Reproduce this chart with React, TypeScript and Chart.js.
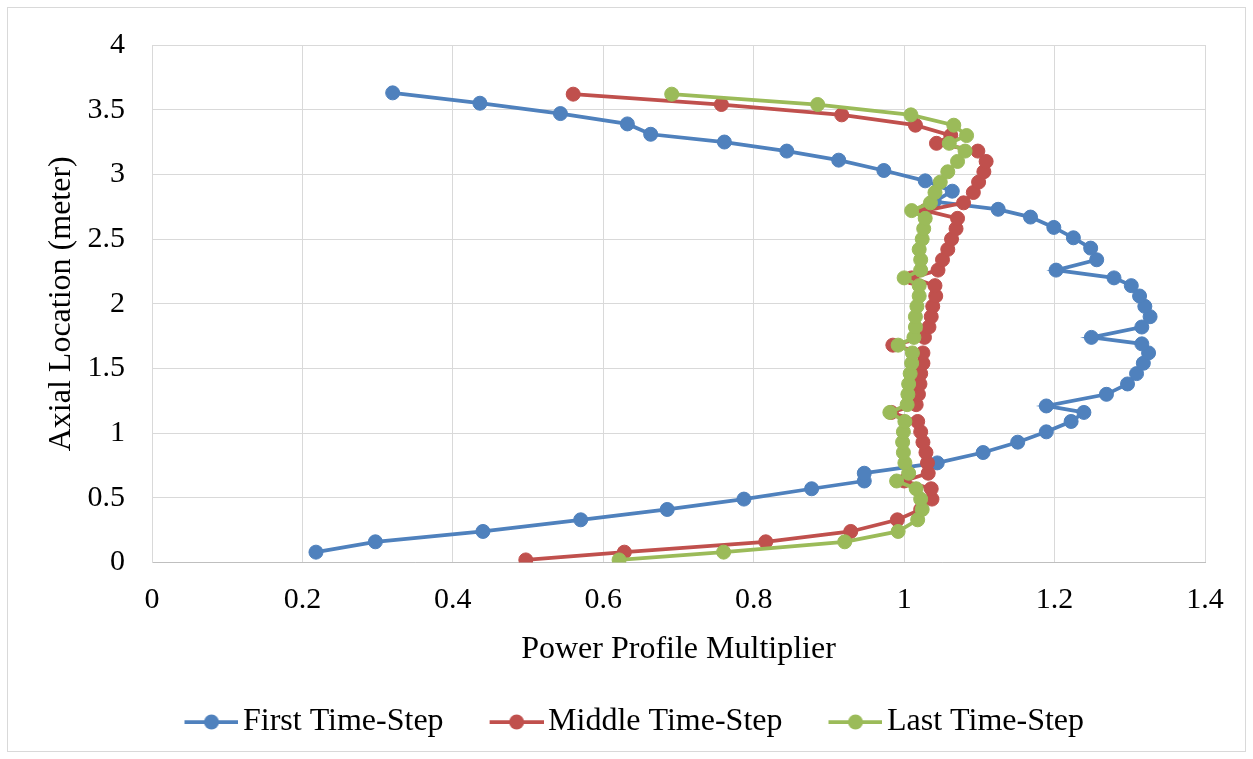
import React, { useEffect, useRef } from "react";
import { Chart, registerables } from "chart.js";

Chart.register(...registerables);

// ---- Data ----
const seriesLabels = ["First Time-Step", "Middle Time-Step", "Last Time-Step"];
const seriesColors = ["#4F81BD", "#C0504D", "#9BBB59"];

const firstY = [
  0.08, 0.16, 0.24, 0.33, 0.41, 0.49, 0.57, 0.63, 0.69, 0.77,
  0.85, 0.93, 1.01, 1.09, 1.16, 1.21, 1.30, 1.38, 1.46, 1.54,
  1.62, 1.69, 1.74, 1.82, 1.90, 1.98, 2.06, 2.14, 2.20, 2.26,
  2.34, 2.43, 2.51, 2.59, 2.67, 2.73, 2.79, 2.87, 2.95, 3.03,
  3.11, 3.18, 3.25, 3.31, 3.39, 3.47, 3.55, 3.63,
];
const firstX = [
  0.218, 0.297, 0.440, 0.570, 0.685, 0.787, 0.877, 0.947, 0.947, 1.044,
  1.105, 1.151, 1.189, 1.222, 1.239, 1.189, 1.269, 1.297, 1.309, 1.318,
  1.325, 1.316, 1.249, 1.316, 1.327, 1.320, 1.313, 1.302, 1.279, 1.202,
  1.256, 1.248, 1.225, 1.199, 1.168, 1.125, 1.040, 1.064, 1.028, 0.973,
  0.913, 0.844, 0.761, 0.663, 0.632, 0.543, 0.436, 0.320,
];

const middleY = [
  0.02, 0.08, 0.16, 0.24, 0.33, 0.41, 0.49, 0.57, 0.63, 0.69,
  0.77, 0.85, 0.93, 1.01, 1.09, 1.16, 1.22, 1.30, 1.38, 1.46,
  1.54, 1.62, 1.68, 1.74, 1.82, 1.90, 1.98, 2.06, 2.14, 2.20,
  2.26, 2.34, 2.42, 2.50, 2.58, 2.66, 2.72, 2.78, 2.86, 2.94,
  3.02, 3.10, 3.18, 3.24, 3.30, 3.38, 3.46, 3.54, 3.62,
];
const middleX = [
  0.497, 0.628, 0.816, 0.929, 0.991, 1.022, 1.037, 1.036, 1.000, 1.032,
  1.031, 1.029, 1.025, 1.022, 1.018, 0.983, 1.016, 1.019, 1.021, 1.022,
  1.025, 1.025, 0.985, 1.027, 1.033, 1.036, 1.038, 1.042, 1.041, 1.010,
  1.045, 1.051, 1.058, 1.063, 1.069, 1.071, 1.028, 1.079, 1.092, 1.099,
  1.106, 1.109, 1.098, 1.043, 1.062, 1.015, 0.917, 0.757, 0.560,
];

const lastY = [
  0.02, 0.08, 0.16, 0.24, 0.33, 0.41, 0.49, 0.57, 0.63, 0.69,
  0.77, 0.85, 0.93, 1.01, 1.09, 1.16, 1.22, 1.30, 1.38, 1.46,
  1.54, 1.62, 1.68, 1.74, 1.82, 1.90, 1.98, 2.06, 2.14, 2.20,
  2.26, 2.34, 2.42, 2.50, 2.58, 2.66, 2.72, 2.78, 2.86, 2.94,
  3.02, 3.10, 3.18, 3.24, 3.30, 3.38, 3.46, 3.54, 3.62,
];
const lastX = [
  0.621, 0.760, 0.921, 0.992, 1.018, 1.024, 1.022, 1.016, 0.990, 1.006,
  1.001, 0.999, 0.998, 0.999, 1.001, 0.981, 1.004, 1.005, 1.006, 1.008,
  1.010, 1.011, 0.992, 1.013, 1.015, 1.015, 1.017, 1.020, 1.020, 1.000,
  1.022, 1.022, 1.020, 1.024, 1.026, 1.028, 1.010, 1.035, 1.041, 1.048,
  1.058, 1.071, 1.081, 1.060, 1.083, 1.066, 1.009, 0.885, 0.691,
];

const xTickMin = 0;
const xTickMax = 1.4;
const xTickStep = 0.2;
const yTickMin = 0;
const yTickMax = 4;
const yTickStep = 0.5;

const xTitle = "Power Profile Multiplier";
const yTitle = "Axial Location (meter)";

const FONT = "'Liberation Serif', 'Times New Roman', serif";

function toPoints(xs: number[], ys: number[]) {
  return xs.map((x, i) => ({ x, y: ys[i] }));
}

function fmtTick(v: number) {
  return String(Math.round(v * 10) / 10);
}

function makeLegendImage(color: string) {
  const W = 74;
  const H = 18;
  const c = document.createElement("canvas");
  c.width = W;
  c.height = H;
  const ctx = c.getContext("2d")!;
  ctx.strokeStyle = color;
  ctx.lineWidth = 3.75;
  ctx.beginPath();
  ctx.moveTo(W - 54, H / 2);
  ctx.lineTo(W, H / 2);
  ctx.stroke();
  ctx.fillStyle = color;
  ctx.beginPath();
  ctx.arc(W - 27, H / 2, 7.5, 0, Math.PI * 2);
  ctx.fill();
  return c;
}

const borderPlugin = {
  id: "outerBorder",
  beforeDraw(chart: any) {
    const ctx = chart.ctx;
    ctx.save();
    ctx.fillStyle = "#FFFFFF";
    ctx.fillRect(0, 0, chart.width, chart.height);
    ctx.strokeStyle = "#D9D9D9";
    ctx.lineWidth = 1;
    ctx.strokeRect(7.5, 7.5, chart.width - 15, chart.height - 15);
    ctx.restore();
  },
};

const PAD_LEFT = 55;

export default function App() {
  const ref = useRef<HTMLCanvasElement | null>(null);

  useEffect(() => {
    if (!ref.current) return;
    const series = [
      toPoints(firstX, firstY),
      toPoints(middleX, middleY),
      toPoints(lastX, lastY),
    ];
    const legendImgs = seriesColors.map((c) => makeLegendImage(c));

    const chart = new Chart(ref.current, {
      type: "scatter",
      data: {
        datasets: series.map((data, i) => ({
          label: seriesLabels[i],
          data,
          showLine: true,
          borderColor: seriesColors[i],
          backgroundColor: seriesColors[i],
          borderWidth: 3.75,
          pointRadius: 7,
          pointBorderWidth: 1,
          pointBorderColor: seriesColors[i],
          pointBackgroundColor: seriesColors[i],
          order: 2 - i,
        })),
      },
      options: {
        animation: false,
        responsive: false,
        maintainAspectRatio: false,
        devicePixelRatio: 1,
        layout: {
          padding: { top: 42, left: PAD_LEFT, right: 48, bottom: 11 },
        },
        scales: {
          x: {
            type: "linear",
            min: xTickMin,
            max: xTickMax,
            afterFit: (scale: any) => {
              scale.height = 106;
            },
            ticks: {
              stepSize: xTickStep,
              padding: 20,
              color: "#000",
              font: { family: FONT, size: 30 },
              maxRotation: 0,
              callback: (v: any) => fmtTick(Number(v)),
            },
            grid: { color: "#D9D9D9", lineWidth: 1, drawTicks: false },
            border: { color: "#BFBFBF", width: 1 },
            title: {
              display: true,
              text: xTitle,
              color: "#000",
              font: { family: FONT, size: 32 },
              padding: 0,
            },
          },
          y: {
            type: "linear",
            min: yTickMin,
            max: yTickMax,
            afterFit: (scale: any) => {
              scale.width = 152 - PAD_LEFT;
            },
            ticks: {
              stepSize: yTickStep,
              padding: 27,
              color: "#000",
              font: { family: FONT, size: 30 },
              callback: (v: any) => fmtTick(Number(v)),
            },
            grid: { color: "#D9D9D9", lineWidth: 1, drawTicks: false },
            border: { color: "#D9D9D9", width: 1 },
            title: {
              display: true,
              text: yTitle,
              color: "#000",
              font: { family: FONT, size: 32 },
              padding: { top: 62 - PAD_LEFT - 19.2, bottom: 0 },
            },
          },
        },
        plugins: {
          tooltip: { enabled: false },
          legend: {
            display: true,
            position: "bottom",
            labels: {
              usePointStyle: true,
              pointStyleWidth: 51,
              padding: 37.5,
              color: "#000",
              font: { family: FONT, size: 32 },
              generateLabels: () =>
                seriesLabels.map((text, i) => ({
                  text,
                  datasetIndex: i,
                  pointStyle: legendImgs[i],
                  fillStyle: seriesColors[i],
                  strokeStyle: seriesColors[i],
                  lineWidth: 0,
                  hidden: false,
                  fontColor: "#000",
                })),
            },
          },
        },
      },
      plugins: [borderPlugin],
    } as any);

    return () => chart.destroy();
  }, []);

  return (
    <div style={{ position: "fixed", left: 0, top: 0, width: 1253, height: 759 }}>
      <canvas ref={ref} width={1253} height={759} style={{ display: "block" }} />
    </div>
  );
}
